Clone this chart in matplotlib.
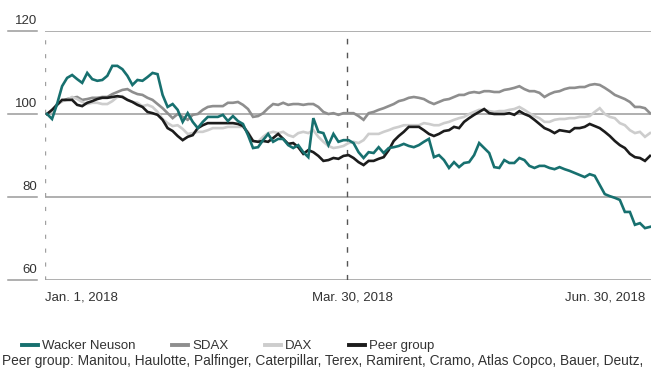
import matplotlib
matplotlib.use("Agg")
import matplotlib.pyplot as plt
from matplotlib.lines import Line2D

plt.rcParams['font.family'] = ['Liberation Sans', 'DejaVu Sans']

# ---- data (index 0 = Jan. 1, 2018 ... index 120 = Jun. 30, 2018; 100 = start) ----
wacker_neuson = [
    100.0, 98.8, 102.4, 106.7, 108.7, 109.4, 108.4, 107.5, 109.9, 108.4,
    108.0, 108.2, 109.2, 111.6, 111.6, 110.8, 109.2, 107.0, 108.2, 108.0,
    108.9, 109.9, 109.6, 104.6, 101.7, 102.4, 101.0, 98.1, 100.2, 98.1,
    96.6, 98.1, 99.3, 99.3, 99.3, 99.8, 98.3, 99.5, 98.3, 97.6,
    94.9, 91.8, 92.0, 93.7, 95.2, 93.3, 94.0, 94.0, 92.5, 91.8,
    92.5, 90.8, 89.6, 99.0, 95.7, 95.4, 92.5, 95.2, 93.3, 93.7,
    93.7, 93.0, 90.8, 89.4, 90.8, 90.6, 92.0, 90.6, 91.8, 92.0,
    92.3, 92.8, 92.3, 92.0, 92.5, 93.3, 94.0, 89.6, 90.1, 88.9,
    87.0, 88.4, 87.2, 88.2, 88.4, 90.1, 93.0, 91.8, 90.6, 87.2,
    87.0, 88.9, 88.2, 88.2, 89.4, 88.9, 87.5, 87.0, 87.5, 87.5,
    87.0, 86.7, 87.2, 86.7, 86.3, 85.8, 85.3, 84.8, 85.5, 85.1,
    82.9, 80.7, 80.2, 79.8, 79.3, 76.4, 76.4, 73.3, 73.7, 72.5,
    72.8,
]
sdax = [
    100.0, 100.7, 102.4, 103.1, 103.6, 103.9, 104.1, 103.4, 103.6, 103.9,
    103.9, 104.1, 104.1, 104.8, 105.3, 105.8, 106.0, 105.3, 104.8, 104.6,
    103.9, 103.4, 102.4, 101.4, 100.2, 99.0, 100.0, 99.3, 98.6, 99.8,
    100.0, 101.0, 101.7, 101.9, 101.9, 101.9, 102.7, 102.7, 102.9, 102.2,
    101.2, 99.3, 99.5, 100.2, 101.4, 102.4, 102.2, 102.7, 102.2, 102.4,
    102.4, 102.2, 102.4, 102.4, 101.7, 100.5, 100.0, 100.2, 99.8, 100.2,
    100.2, 100.2, 99.5, 98.6, 100.2, 100.5, 101.0, 101.4, 101.9, 102.4,
    103.1, 103.4, 103.9, 104.1, 103.9, 103.6, 102.9, 102.4, 102.9, 103.4,
    103.6, 104.1, 104.6, 104.6, 105.1, 105.3, 105.1, 105.5, 105.5, 105.3,
    105.3, 105.8, 106.0, 106.3, 106.7, 106.0, 105.5, 105.5, 105.1, 104.1,
    104.8, 105.3, 105.5, 106.0, 106.3, 106.3, 106.5, 106.5, 107.0, 107.2,
    107.0, 106.3, 105.5, 104.6, 104.1, 103.6, 102.9, 101.7, 101.7, 101.4,
    100.2,
]
dax = [
    100.0, 100.7, 102.2, 103.1, 103.4, 104.1, 103.6, 102.9, 102.4, 102.7,
    102.7, 102.4, 102.4, 103.1, 104.1, 104.3, 103.4, 102.9, 102.7, 101.9,
    102.2, 101.7, 100.5, 98.8, 97.8, 97.1, 97.3, 96.4, 95.2, 95.4,
    95.7, 95.7, 96.1, 96.6, 96.6, 96.6, 96.9, 96.9, 96.9, 96.9,
    95.7, 93.5, 93.3, 94.5, 95.4, 95.7, 95.4, 95.7, 94.9, 94.5,
    95.4, 95.7, 95.4, 96.1, 94.5, 93.3, 92.3, 91.8, 92.0, 92.3,
    93.0, 93.3, 93.0, 93.7, 95.2, 95.2, 95.2, 95.7, 96.1, 96.6,
    96.9, 97.3, 97.3, 97.3, 97.3, 97.8, 97.6, 97.3, 97.3, 97.8,
    98.1, 98.6, 99.0, 99.3, 100.0, 100.5, 101.0, 101.0, 100.7, 100.5,
    100.7, 100.7, 101.0, 101.2, 101.7, 101.0, 100.2, 99.5, 99.0, 98.1,
    98.1, 98.6, 98.8, 98.8, 99.0, 99.0, 99.3, 99.3, 99.5, 100.5,
    101.4, 100.0, 99.3, 99.0, 97.8, 97.3, 96.1, 95.4, 95.7, 94.5,
    95.4,
]
peer_group = [
    100.0, 101.0, 102.2, 103.4, 103.4, 103.4, 102.2, 101.9, 102.7, 103.1,
    103.6, 103.9, 103.9, 104.1, 104.3, 104.1, 103.4, 102.9, 102.2, 101.7,
    100.5, 100.2, 99.8, 98.6, 96.6, 95.9, 94.7, 93.7, 94.5, 94.9,
    96.6, 97.3, 97.8, 97.8, 97.8, 97.8, 97.8, 97.8, 97.6, 97.1,
    95.4, 93.5, 93.3, 93.5, 93.3, 94.2, 95.2, 94.0, 92.8, 93.0,
    92.0, 90.4, 91.3, 90.8, 89.9, 88.7, 88.9, 89.4, 89.2, 89.9,
    90.1, 89.4, 88.4, 87.7, 88.7, 88.7, 89.2, 89.6, 91.3, 93.5,
    94.7, 95.7, 96.9, 96.9, 96.9, 96.1, 95.2, 94.7, 95.2, 95.9,
    96.1, 96.9, 96.6, 98.1, 99.0, 99.8, 100.5, 101.2, 100.2, 100.0,
    100.0, 100.0, 100.2, 99.8, 100.7, 100.0, 99.5, 98.6, 97.6, 96.6,
    96.1, 95.4, 96.1, 95.9, 95.7, 96.6, 96.6, 96.9, 97.6, 97.1,
    96.6, 95.7, 94.7, 93.5, 92.5, 91.8, 90.4, 89.6, 89.4, 88.7,
    89.9,
]
series_names = ["Wacker Neuson", "SDAX", "DAX", "Peer group"]
y_ticks = [60, 80, 100, 120]
x_tick_labels = ["Jan. 1, 2018", "Mar. 30, 2018", "Jun. 30, 2018"]
x_tick_index = [0, 59.7, 120]
footnote = ("Peer group: Manitou, Haulotte, Palfinger, Caterpillar, Terex, "
            "Ramirent, Cramo, Atlas Copco, Bauer, Deutz,")

# ---- styles ----
colors = ["#17706f", "#8e8e8e", "#cdcdcd", "#1c1c1c"]
grid_color = "#9a9a9a"
text_color = "#333333"
W, H = 651, 369

fig = plt.figure(figsize=(W / 100, H / 100), dpi=100)
ax = fig.add_axes([45 / W, 1 - 280 / H, 606 / W, 249 / H])
ax.set_xlim(-0.4, 120.2)
ax.set_ylim(60, 120)
for s in ax.spines.values():
    s.set_visible(False)
ax.set_xticks([])
ax.set_yticks([])

# horizontal grid and left label stubs
ytr = ax.get_yaxis_transform()
for v in y_ticks:
    ax.axhline(v, color=grid_color, lw=1.1, zorder=1)
    ax.plot([-37 / 606, -8 / 606], [v, v], transform=ytr, clip_on=False,
            color=grid_color, lw=1.1)
    ax.annotate(str(v), xy=(-8 / 606, v), xycoords=ytr, xytext=(0, 4),
                textcoords="offset pixels", ha="right", va="bottom",
                fontsize=9.5, color=text_color)

# vertical dashed date markers
ax.axvline(x_tick_index[0] - 0.4, color="#a0a0a0", lw=1.0,
           dashes=(3, 7), zorder=1)
ax.axvline(x_tick_index[1], color="#555555", lw=1.0, dashes=(4, 6), zorder=1)

# series
x = list(range(len(wacker_neuson)))
order = [1, 2, 3, 0]
data = [wacker_neuson, sdax, dax, peer_group]
for k in order:
    ax.plot(x, data[k], color=colors[k], lw=1.9, solid_joinstyle="miter",
            zorder=3 + (1 if k == 0 else 0))

# x labels
xtr = ax.get_xaxis_transform()
ax.text(x_tick_index[0] - 0.4, -18 / 249, x_tick_labels[0], transform=xtr,
        ha="left", va="center", fontsize=9.5, color=text_color)
ax.text(x_tick_index[1] + 1, -18 / 249, x_tick_labels[1], transform=xtr,
        ha="center", va="center", fontsize=9.5, color=text_color)
ax.text(119.0, -18 / 249, x_tick_labels[2], transform=xtr,
        ha="right", va="center", fontsize=9.5, color=text_color)

# legend
handles = [Line2D([0], [0], color=c, lw=2.8) for c in colors]
leg = fig.legend(handles, series_names, loc="center left",
                 bbox_to_anchor=(22 / W, 1 - 346 / H), ncol=4, frameon=False,
                 handlelength=1.2, handletextpad=0.3, columnspacing=2.8,
                 fontsize=9.5, borderpad=0, borderaxespad=0)
for t in leg.get_texts():
    t.set_color(text_color)

fig.text(2 / W, 1 - 368 / H, footnote, ha="left", va="bottom", fontsize=9.95,
         color=text_color)

fig.savefig("out.png", dpi=100, facecolor="white")
